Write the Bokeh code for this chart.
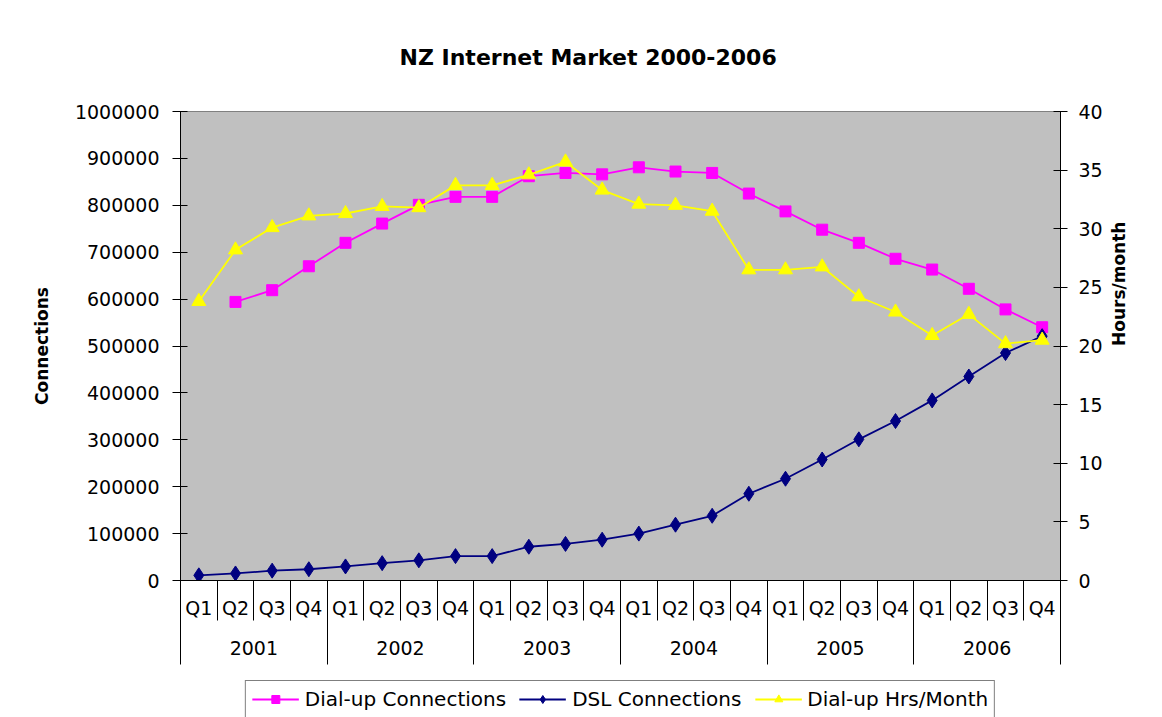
import math
from bokeh.plotting import figure
from bokeh.layouts import column
from bokeh.models import (ColumnDataSource, FactorRange, Range1d, LinearAxis, FixedTicker,
                          SingleIntervalTicker, NumeralTickFormatter, Legend, LegendItem)
from bokeh.embed import file_html
from bokeh.resources import INLINE

years = ["2001", "2002", "2003", "2004", "2005", "2006"]
quarters = ["Q1", "Q2", "Q3", "Q4"]
dialup_connections = [float("nan"), 594000, 619000, 670000, 720000, 761000, 801000, 818000,
                      818000, 862000, 869000, 866000, 881000, 872000, 869000, 825000,
                      787000, 748000, 720000, 686000, 663000, 622000, 578000, 540000]
dsl_connections = [11000, 15000, 21000, 24000, 30000, 37000, 43000, 52000,
                   52000, 72000, 78000, 87000, 100000, 119000, 138000, 185000,
                   217000, 258000, 301000, 340000, 384000, 435000, 485000, 521000]
dialup_hours = [23.8, 28.2, 30.1, 31.1, 31.3, 31.9, 31.8, 33.7,
                33.7, 34.6, 35.7, 33.3, 32.1, 32.0, 31.5, 26.5,
                26.5, 26.75, 24.2, 22.9, 20.9, 22.7, 20.2, 20.5]

factors = [(y, q) for y in years for q in quarters]
n = len(factors)
nq = len(quarters)

src = ColumnDataSource(data=dict(x=factors, dial=dialup_connections, dsl=dsl_connections, hrs=dialup_hours))

FONT = "DejaVu Sans"

p = figure(width=1162, height=680, output_backend="svg", toolbar_location=None,
           x_range=FactorRange(*factors, range_padding=0, factor_padding=0,
                               subgroup_padding=0, group_padding=0),
           y_range=Range1d(0, 1000000), x_axis_location=None,
           min_border_left=180, min_border_right=102, min_border_top=110, min_border_bottom=100,
           background_fill_color="#C0C0C0", border_fill_color="white",
           title="NZ Internet Market 2000-2006")
p.outline_line_color = "#808080"
p.outline_line_width = 1
p.grid.visible = False

p.title.align = "left"
p.title.offset = 219
p.title.standoff = 84
p.title.text_font = FONT
p.title.text_font_size = "22px"
p.title.text_font_style = "bold"
p.title.text_color = "black"

p.extra_y_ranges = {"hrs": Range1d(0, 40)}

def style_axis(ax):
    ax.major_label_text_font = FONT
    ax.major_label_text_font_size = "19px"
    ax.major_label_text_color = "black"
    ax.axis_label_text_font = FONT
    ax.axis_label_text_font_size = "17px"
    ax.axis_label_text_font_style = "bold"
    ax.axis_label_text_color = "black"
    ax.axis_line_color = "black"
    ax.major_tick_line_color = "black"

# left axis
ya = p.yaxis[0]
ya.ticker = SingleIntervalTicker(interval=100000)
ya.formatter = NumeralTickFormatter(format="0")
ya.axis_label = "Connections"
style_axis(ya)
ya.axis_label_standoff = 20
ya.major_label_standoff = 13
ya.major_tick_in = 7
ya.major_tick_out = 8
ya.minor_tick_line_color = None

# right axis
ra = LinearAxis(y_range_name="hrs", ticker=SingleIntervalTicker(interval=5),
                axis_label="Hours/month")
style_axis(ra)
ra.axis_label_standoff = 13
ra.major_label_standoff = 11
ra.major_tick_in = 7
ra.major_tick_out = 7
ra.minor_tick_line_color = None
if "axis_label_orientation" in ra.properties():
    ra.axis_label_orientation = math.pi / 2
p.add_layout(ra, "right")

# quarter axis (numeric ticks in the factor range's synthetic coordinates)
q_centers = [i + 0.5 for i in range(n)]
q_bounds = [float(i) for i in range(n + 1)]
qa = LinearAxis(ticker=FixedTicker(ticks=q_centers, minor_ticks=q_bounds),
                major_label_overrides={c: f[1] for c, f in zip(q_centers, factors)})
style_axis(qa)
qa.major_tick_in = 0
qa.major_tick_out = 0
qa.major_tick_line_color = None
qa.minor_tick_in = 0
qa.minor_tick_out = 40
qa.minor_tick_line_color = "black"
qa.major_label_standoff = -24
p.add_layout(qa, "below")

# year axis
y_centers = [k * nq + nq / 2 for k in range(len(years))]
y_bounds = [float(k * nq) for k in range(len(years) + 1)]
ya2 = LinearAxis(ticker=FixedTicker(ticks=y_centers, minor_ticks=y_bounds),
                 major_label_overrides={c: y for c, y in zip(y_centers, years)})
style_axis(ya2)
ya2.major_tick_in = 0
ya2.major_tick_out = 0
ya2.major_tick_line_color = None
ya2.minor_tick_in = 8
ya2.minor_tick_out = 43
ya2.minor_tick_line_color = "black"
ya2.axis_line_color = None
ya2.major_label_standoff = -24
p.add_layout(ya2, "below")

# series
def draw_series(fig, hrs_range=None):
    l1 = fig.line("x", "dial", source=src, line_color="#FF00FF", line_width=1.8)
    s1 = fig.scatter("x", "dial", source=src, marker="square", size=11,
                     fill_color="#FF00FF", line_color="#FF00FF")
    l2 = fig.line("x", "dsl", source=src, line_color="#000080", line_width=1.8)
    s2 = fig.scatter("x", "dsl", source=src, marker="diamond", size=15,
                     fill_color="#000080", line_color="#000080")
    kw = {"y_range_name": hrs_range} if hrs_range else {}
    l3 = fig.line("x", "hrs", source=src, line_color="#FFFF00", line_width=1.8, **kw)
    s3 = fig.scatter("x", "hrs", source=src, marker="triangle", size=14,
                     fill_color="#FFFF00", line_color="#FFFF00", **kw)
    return (l1, s1), (l2, s2), (l3, s3)

draw_series(p, "hrs")

# legend strip below the chart (its glyphs lie outside its own view, only the legend shows)
pl = figure(width=1162, height=37, output_backend="svg", toolbar_location=None,
            x_range=p.x_range, y_range=Range1d(-2, -1),
            x_axis_location=None, y_axis_location=None,
            min_border_left=88, min_border_right=0, min_border_top=0, min_border_bottom=0,
            background_fill_color="white", border_fill_color="white")
pl.outline_line_color = None
pl.grid.visible = False
r1, r2, r3 = draw_series(pl)

legend = Legend(items=[LegendItem(label="Dial-up Connections", renderers=list(r1)),
                       LegendItem(label="DSL Connections", renderers=list(r2)),
                       LegendItem(label="Dial-up Hrs/Month", renderers=list(r3))],
                orientation="horizontal", location="center")
legend.label_text_font = FONT
legend.label_text_font_size = "20px"
legend.label_text_color = "black"
legend.glyph_width = 47
legend.glyph_height = 20
legend.label_standoff = 6
legend.spacing = 13
legend.padding = 6
legend.margin = 0
legend.border_line_color = "black"
legend.border_line_width = 1
legend.background_fill_color = "white"
pl.add_layout(legend, "center")

layout = column(p, pl, spacing=0)
open("out.html", "w").write(file_html(layout, INLINE))
